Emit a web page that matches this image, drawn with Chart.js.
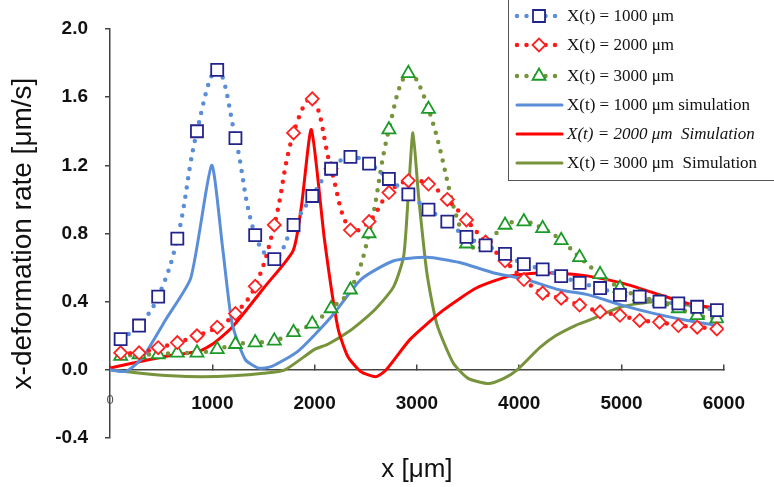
<!DOCTYPE html>
<html>
<head>
<meta charset="utf-8">
<title>x-deformation rate</title>
<script src="https://cdn.jsdelivr.net/npm/chart.js"></script>
<style>
  body { margin: 0; background: #fff; }
</style>
</head>
<body>
<canvas id="chart" width="774" height="487"></canvas>
<script>
// measured sample positions along x (um)
const sampleX = [104, 284, 471, 658, 850, 1048, 1226, 1419, 1606, 1794, 1977, 2161, 2350, 2532, 2726, 2916,
                 3113, 3297, 3484, 3671, 3861, 4045, 4229, 4410, 4590, 4790, 4984, 5177, 5371, 5555, 5739, 5932];

// measured x-deformation rate (um/s)
const meas1000 = [0.18, 0.26, 0.43, 0.77, 1.40, 1.76, 1.36, 0.79, 0.65, 0.85, 1.02, 1.18, 1.25, 1.21, 1.12, 1.03,
                  0.94, 0.87, 0.78, 0.73, 0.68, 0.62, 0.59, 0.55, 0.51, 0.48, 0.44, 0.43, 0.40, 0.39, 0.37, 0.35];
const meas2000 = [0.10, 0.10, 0.13, 0.16, 0.20, 0.25, 0.33, 0.49, 0.85, 1.39, 1.59, 1.18, 0.82, 0.87, 1.04, 1.11,
                  1.09, 1.00, 0.88, 0.75, 0.64, 0.53, 0.45, 0.42, 0.38, 0.34, 0.32, 0.29, 0.28, 0.26, 0.25, 0.24];
const meas3000 = [0.08, 0.09, 0.09, 0.10, 0.10, 0.12, 0.15, 0.16, 0.17, 0.22, 0.27, 0.36, 0.47, 0.80, 1.41, 1.74,
                  1.53, null, 0.74, 0.74, 0.85, 0.87, 0.83, 0.76, 0.66, 0.56, 0.48, 0.43, 0.40, 0.36, 0.32, 0.30];

// simulation curves
const sim1000X = [0, 150, 250, 330, 550, 790, 993, 1100, 1194, 1323, 1452, 1581, 1839, 2161, 2452, 2774, 3097,
                  3419, 3742, 4065, 4387, 4677, 5000, 5323, 5645, 5935];
const sim1000Y = [0.0, -0.01, 0.03, 0.08, 0.30, 0.54, 1.20, 0.72, 0.27, 0.06, 0.01, 0.02, 0.11, 0.31, 0.53, 0.64, 0.66,
                  0.63, 0.57, 0.53, 0.47, 0.44, 0.38, 0.33, 0.29, 0.26];

const sim2000X = [0, 226, 548, 871, 1000, 1194, 1516, 1790, 1871, 1968, 2097, 2226, 2323, 2450, 2600, 2700, 2935,
                  3258, 3581, 3903, 4226, 4548, 4677, 5000, 5323, 5645, 5935];
const sim2000Y = [0.01, 0.04, 0.08, 0.11, 0.15, 0.25, 0.49, 0.70, 0.96, 1.41, 0.76, 0.25, 0.08, -0.01, -0.04, 0.0, 0.18,
                  0.35, 0.48, 0.55, 0.57, 0.56, 0.55, 0.51, 0.45, 0.39, 0.36];

const sim3000X = [0, 300, 600, 900, 1200, 1500, 1710, 2000, 2129, 2323, 2452, 2600, 2774, 2871, 2919, 2961, 3016,
                  3097, 3194, 3355, 3500, 3700, 3850, 3980, 4200, 4355, 4548, 4677, 5000, 5323, 5645, 5935];
const sim3000Y = [0.0, -0.02, -0.035, -0.04, -0.035, -0.02, 0.0, 0.12, 0.15, 0.22, 0.28, 0.36, 0.49, 0.67, 1.06, 1.39, 1.02,
                  0.57, 0.27, 0.04, -0.05, -0.08, -0.05, 0.0, 0.13, 0.20, 0.26, 0.29, 0.37, 0.40, 0.38, 0.36];

const seriesLabels = [
  'X(t) = 1000 \u03bcm',
  'X(t) = 2000 \u03bcm',
  'X(t) = 3000 \u03bcm',
  'X(t) = 1000 \u03bcm simulation',
  'X(t) = 2000 \u03bcm  Simulation',
  'X(t) = 3000 \u03bcm  Simulation'
];

const blue = '#5a8ed8', red = '#ff1a1a', olive = '#77933c';

function pts(xs, ys) {
  return xs.map((x, i) => ({ x: x, y: ys[i] }));
}

function measured(label, ys, lineColor, style, radius, markColor) {
  return {
    label: label,
    data: pts(sampleX, ys),
    borderColor: lineColor,
    borderWidth: 4.5,
    borderDash: [0, 9.5],
    borderCapStyle: 'round',
    tension: 0.4,
    spanGaps: true,
    pointStyle: style,
    pointRadius: radius,
    pointBorderColor: markColor,
    pointBackgroundColor: '#fff',
    pointBorderWidth: 1.8
  };
}

function simulated(label, xs, ys, color) {
  return {
    label: label,
    data: pts(xs, ys),
    borderColor: color,
    borderWidth: 3,
    tension: 0.2,
    pointRadius: 0
  };
}

const datasets = [
  measured(seriesLabels[0], meas1000, blue, 'rect', 8.5, '#23238c'),
  measured(seriesLabels[1], meas2000, red, 'rectRot', 6.5, '#ff2020'),
  measured(seriesLabels[2], meas3000, olive, 'triangle', 7.5, '#1c9a28'),
  simulated(seriesLabels[3], sim1000X, sim1000Y, blue),
  simulated(seriesLabels[4], sim2000X, sim2000Y, '#ff0000'),
  simulated(seriesLabels[5], sim3000X, sim3000Y, olive)
];

// legend box in the top right corner
const legendRows = [16, 45, 76, 105, 134, 163];
const boxLegend = {
  id: 'boxLegend',
  afterDraw(chart) {
    const ctx = chart.ctx;
    ctx.save();
    ctx.fillStyle = '#fff';
    ctx.fillRect(508, -2, 270, 182);
    ctx.strokeStyle = '#555';
    ctx.lineWidth = 1;
    ctx.strokeRect(508.5, -2, 270, 182.5);

    chart.data.datasets.forEach((ds, i) => {
      const y = legendRows[i];
      ctx.strokeStyle = ds.borderColor;
      ctx.lineWidth = ds.borderWidth;
      ctx.lineCap = 'round';
      ctx.setLineDash(ds.borderDash || []);
      ctx.beginPath();
      ctx.moveTo(517, y);
      ctx.lineTo(562, y);
      ctx.stroke();
      ctx.setLineDash([]);

      if (ds.pointRadius) {
        const r = ds.pointRadius, cx = 539;
        ctx.fillStyle = '#fff';
        ctx.strokeStyle = ds.pointBorderColor;
        ctx.lineWidth = ds.pointBorderWidth;
        ctx.lineCap = 'butt';
        ctx.beginPath();
        if (ds.pointStyle === 'rect') {
          const s = r * Math.SQRT1_2;
          ctx.rect(cx - s, y - s, 2 * s, 2 * s);
        } else if (ds.pointStyle === 'rectRot') {
          ctx.moveTo(cx - r, y); ctx.lineTo(cx, y - r); ctx.lineTo(cx + r, y); ctx.lineTo(cx, y + r);
          ctx.closePath();
        } else {
          ctx.moveTo(cx, y - r);
          ctx.lineTo(cx + r * Math.sin(2 * Math.PI / 3), y - r * Math.cos(2 * Math.PI / 3));
          ctx.lineTo(cx + r * Math.sin(4 * Math.PI / 3), y - r * Math.cos(4 * Math.PI / 3));
          ctx.closePath();
        }
        ctx.fill();
        ctx.stroke();
      }

      ctx.fillStyle = '#111';
      ctx.font = (i === 4 ? 'italic ' : '') + '17px "Liberation Serif", "Times New Roman", serif';
      ctx.textBaseline = 'middle';
      ctx.textAlign = 'left';
      ctx.fillText(ds.label, 567, y + 1);
    });
    ctx.restore();
  }
};

const tickFont = { family: 'Arial, "Liberation Sans", sans-serif', size: 19, weight: 'bold' };

new Chart(document.getElementById('chart').getContext('2d'), {
  type: 'line',
  data: { datasets: datasets },
  options: {
    responsive: false,
    animation: false,
    layout: { padding: { top: 29, right: 44, bottom: 49, left: 0 } },
    plugins: {
      legend: { display: false },
      tooltip: { enabled: false }
    },
    scales: {
      x: {
        type: 'linear',
        position: { y: 0 },
        min: 0,
        max: 6000,
        grid: { drawOnChartArea: false, drawTicks: true, tickLength: -6, color: '#444', lineWidth: 1.5 },
        border: { display: true, color: '#444', width: 1.5 },
        ticks: {
          stepSize: 1000,
          padding: 29,
          callback: v => String(v),
          color: ctx => ctx.tick && ctx.tick.value === 0 ? '#555' : '#111',
          font: ctx => ctx.tick && ctx.tick.value === 0
            ? { family: 'Arial, "Liberation Sans", sans-serif', size: 13, weight: 'normal' }
            : tickFont
        },
        title: {
          display: true,
          text: 'x [\u03bcm]',
          color: '#111',
          font: { family: 'Arial, "Liberation Sans", sans-serif', size: 26 },
          padding: { top: 10, bottom: 0 }
        }
      },
      y: {
        min: -0.4,
        max: 2.0,
        afterFit: s => { s.width = 110; },
        grid: { drawOnChartArea: false, drawTicks: true, tickLength: 5, color: '#444', lineWidth: 1.5 },
        border: { display: true, color: '#444', width: 1.5 },
        ticks: {
          stepSize: 0.4,
          padding: 17,
          color: '#111',
          font: tickFont,
          callback: v => (Math.abs(v) < 1e-9 ? 0 : v).toFixed(1)
        },
        title: {
          display: true,
          text: 'x-deformation rate [\u03bcm/s]',
          color: '#111',
          font: { family: 'Arial, "Liberation Sans", sans-serif', size: 28 },
          padding: { top: 6, bottom: 0 }
        }
      }
    }
  },
  plugins: [boxLegend]
});
</script>
</body>
</html>
